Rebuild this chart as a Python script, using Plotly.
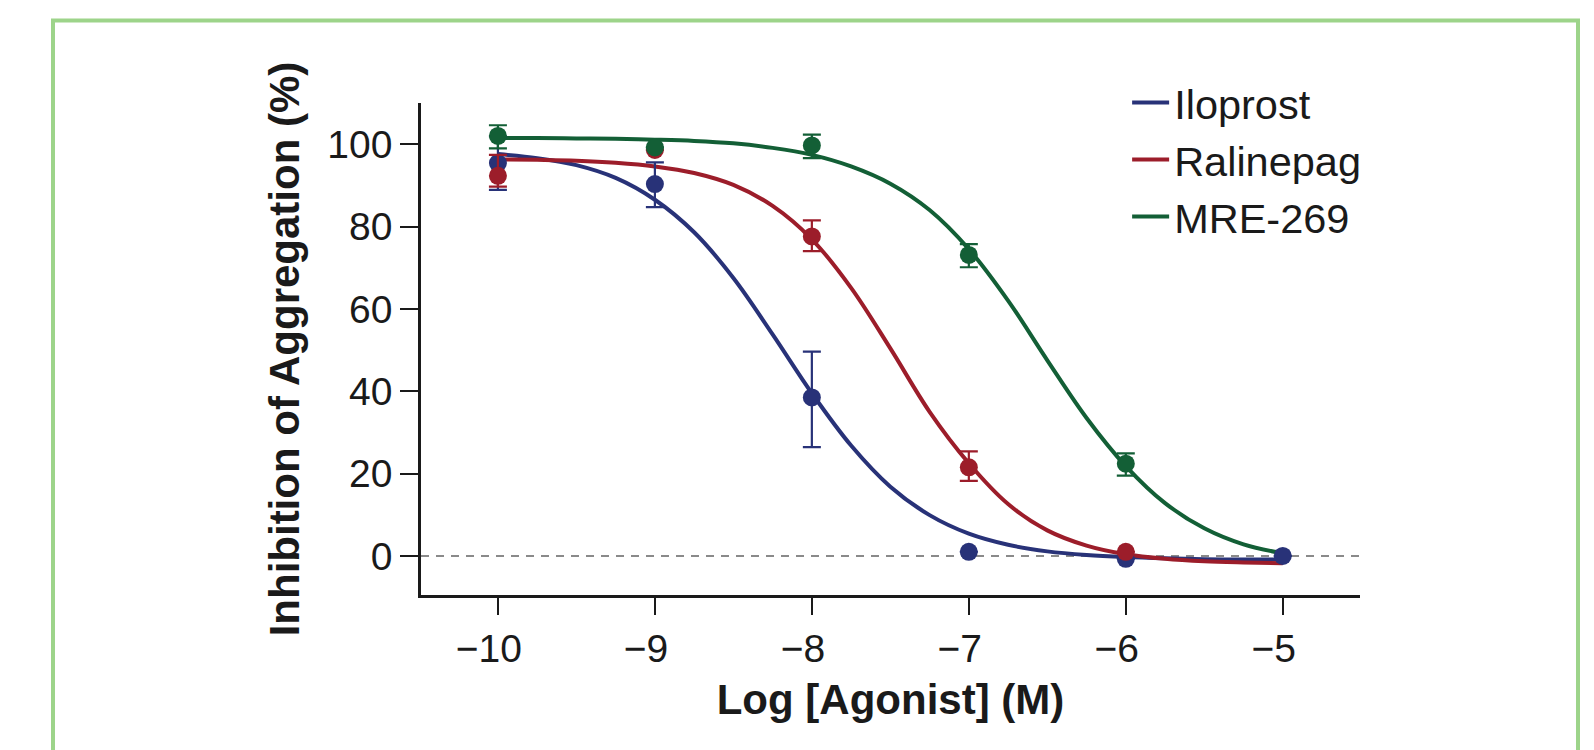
import plotly.graph_objects as go

# ---- data ----
ilo_x = [-10, -9, -8, -7, -6, -5]
ilo_mean = [95.4, 90.3, 38.5, 1.0, -0.7, 0.0]
ilo_err_up = [6.5, 5.3, 11.1, 0, 0, 0]
ilo_err_dn = [6.5, 5.6, 12.1, 0, 0, 0]

ral_x = [-10, -9, -8, -7, -6]
ral_mean = [92.3, 98.6, 77.6, 21.5, 1.0]
ral_err_up = [5.1, 0, 3.9, 3.9, 0]
ral_err_dn = [2.6, 0, 3.6, 3.3, 0]

mre_x = [-10, -9, -8, -7, -6]
mre_mean = [102.0, 99.2, 99.7, 73.1, 22.4]
mre_err_up = [2.6, 0, 2.6, 2.6, 2.5]
mre_err_dn = [3.0, 0, 3.1, 3.0, 2.9]

curve_x = [-10, -9.75, -9.5, -9.25, -9, -8.75, -8.5, -8.25, -8, -7.75, -7.5,
           -7.25, -7, -6.75, -6.5, -6.25, -6, -5.75, -5.5, -5.25, -5]
ilo_curve = [97.6, 96.6, 94.9, 91.8, 86.5, 78.6, 67.5, 53.8, 39.5, 26.8, 16.8,
             9.9, 5.4, 2.7, 1.1, 0.2, -0.3, -0.6, -0.8, -0.9, -0.9]
ral_curve = [96.3, 96.2, 96.0, 95.5, 94.6, 93.0, 90.1, 85.0, 76.9, 65.1, 50.4,
             35.0, 22.5, 12.6, 6.2, 2.5, 0.4, -0.7, -1.3, -1.6, -1.8]
mre_curve = [101.5, 101.5, 101.4, 101.3, 101.1, 100.8, 100.2, 99.1, 97.4, 94.6, 90.4,
             84.0, 74.5, 62.0, 47.5, 33.5, 21.8, 12.8, 6.7, 2.8, 0.6]

series_names = ["Iloprost", "Ralinepag", "MRE-269"]
colors = ["#283278", "#9c1d2a", "#135f36"]

y_ticks = [0, 20, 40, 60, 80, 100]
x_ticks = [-10, -9, -8, -7, -6, -5]

fig = go.Figure()

# zero reference line
fig.add_shape(type="line", xref="x", yref="y", x0=-10.49, x1=-4.508, y0=0, y1=0,
              line=dict(color="#8a8a8a", width=2, dash="8px,7px"), layer="below")

curves = [ilo_curve, ral_curve, mre_curve]
for name, col, cy in zip(series_names, colors, curves):
    fig.add_trace(go.Scatter(x=curve_x, y=cy, mode="lines", name=name,
                             line=dict(color=col, width=4, shape="spline"),
                             hoverinfo="skip"))

pts = [(ilo_x, ilo_mean, ilo_err_up, ilo_err_dn),
       (ral_x, ral_mean, ral_err_up, ral_err_dn),
       (mre_x, mre_mean, mre_err_up, mre_err_dn)]
for (px, py, eu, ed), col in zip(pts, colors):
    fig.add_trace(go.Scatter(x=px, y=py, mode="markers", showlegend=False,
                             marker=dict(color=col, size=18, line=dict(width=0)),
                             error_y=dict(type="data", array=eu, arrayminus=ed,
                                          color=col, thickness=2.2, width=9, visible=True)))

# green frame
fig.add_shape(type="rect", xref="paper", yref="paper",
              x0=(53 - 421) / 939, x1=(1578 - 421) / 939,
              y0=(595 - 820) / 492, y1=(595 - 20.5) / 492,
              line=dict(color="#9dd48a", width=4), fillcolor="rgba(0,0,0,0)", layer="below")

font_family = "Liberation Sans, Arial, sans-serif"
fig.update_layout(
    width=1594, height=750,
    margin=dict(l=413, r=242, t=95, b=163),
    paper_bgcolor="white", plot_bgcolor="white",
    font=dict(family=font_family, color="#1a1a1a", size=39),
    showlegend=True,
    legend=dict(x=0.752, y=1.069, xanchor="left", yanchor="top",
                bgcolor="rgba(0,0,0,0)", font=dict(size=41.5, family=font_family),
                itemwidth=37, tracegroupgap=0),
    xaxis=dict(range=[-10.49, -4.508], tickvals=x_ticks, ticks="outside", ticklen=17,
               tickwidth=2, tickcolor="#1a1a1a", showline=True, linecolor="#1a1a1a",
               linewidth=2.5, showgrid=False, zeroline=False,
               tickfont=dict(size=39), ticklabelshift=-9,
               title=dict(text="<b>Log [Agonist] (M)</b>", font=dict(size=42), standoff=17)),
    yaxis=dict(range=[-9.5, 110], tickvals=y_ticks, ticks="outside", ticklen=18,
               tickwidth=2, tickcolor="#1a1a1a", showline=True, linecolor="#1a1a1a",
               linewidth=2.5, showgrid=False, zeroline=False,
               tickfont=dict(size=39), ticklabelstandoff=0,
               title=dict(text="<b>Inhibition of Aggregation (%)</b>", font=dict(size=42),
                          standoff=15)),
)

fig.write_html("out.html")
